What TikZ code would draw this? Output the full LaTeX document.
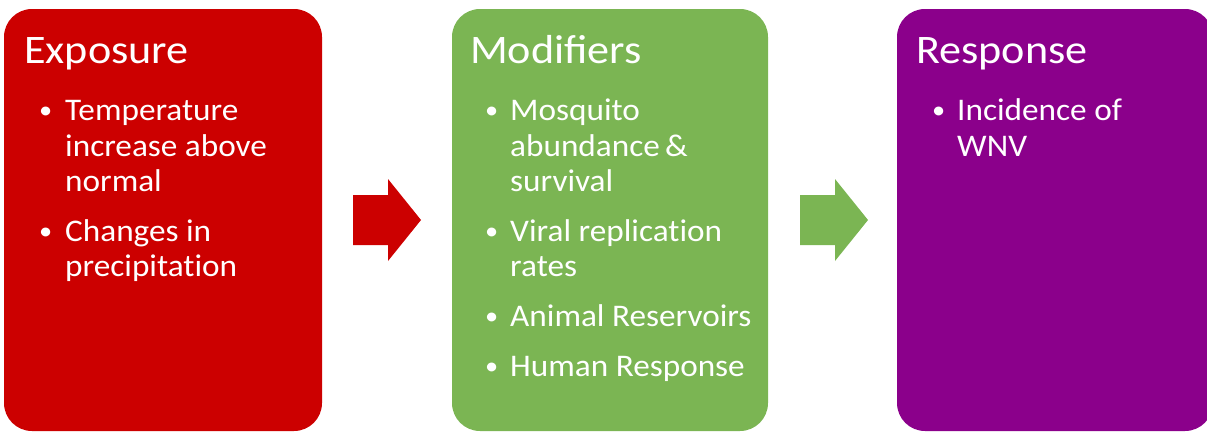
\documentclass[tikz,border=0pt]{standalone}
\usepackage{fontspec}
\setmainfont{Carlito}
\newfontfamily\ttlfont[FakeStretch=1.09]{Carlito}
\newfontfamily\bodyfont[FakeStretch=1.055,Ligatures=NoCommon]{Carlito}
\newcommand{\tinolig}{t\kern0pt i}
\definecolor{expred}{RGB}{204,0,0}
\definecolor{modgreen}{RGB}{123,181,83}
\definecolor{respurple}{RGB}{139,0,139}
\begin{document}
\begin{tikzpicture}[x=1pt,y=-1pt,
  panel/.style={rounded corners=28pt},
  ttl/.style={anchor=base west,inner sep=0pt,text=white,font=\ttlfont\fontsize{40.5}{48}\selectfont},
  txt/.style={anchor=base west,inner sep=0pt,text=white,font=\bodyfont\fontsize{31.5}{36}\selectfont},
  blt/.style={anchor=base west,inner sep=0pt,text=white,font=\bodyfont\fontsize{25}{30}\selectfont}]
\useasboundingbox (0,0) rectangle (1207,432);
% panels
\fill[expred,panel] (4,9) rectangle (322,431);
\fill[modgreen,panel] (452,9) rectangle (768,431);
\fill[respurple,panel] (897,9) rectangle (1213,431);
% block arrows
\coordinate (a1) at (353,195);
\fill[expred] (a1) -- ++(35,0) -- ++(0,-16) -- ++(33,41) -- ++(-33,41) -- ++(0,-16) -- ++(-35,0) -- cycle;
\coordinate (a2) at (800,195);
\fill[modgreen] (a2) -- ++(35,0) -- ++(0,-16) -- ++(33,41) -- ++(-33,41) -- ++(0,-16) -- ++(-35,0) -- cycle;
% Exposure
\node[ttl] (t1) at (24,63) {Exposure};
\node[blt] (b11) at (39,118) {•};
\node[txt] (l11) at (65,120) {Temperature};
\node[txt] (l12) at (65,156) {increase above};
\node[txt] (l13) at (65,191) {normal};
\node[blt] (b12) at (39,239) {•};
\node[txt] (l14) at (65,241) {Changes in};
\node[txt] (l15) at (65,276) {precipita\tinolig on};
% Modifiers
\node[ttl] (t2) at (470,63) {Modifiers};
\node[blt] (b21) at (485,118) {•};
\node[txt] (l21) at (510,120) {Mosquito};
\node[txt] (l22) at (510,156) {abundance\,\&};
\node[txt] (l23) at (510,191) {survival};
\node[blt] (b22) at (485,239) {•};
\node[txt] (l24) at (510,241) {Viral replica\tinolig on};
\node[txt] (l25) at (510,276) {rates};
\node[blt] (b23) at (485,324) {•};
\node[txt] (l26) at (510,326) {Animal Reservoirs};
\node[blt] (b24) at (485,374) {•};
\node[txt] (l27) at (510,376) {Human Response};
% Response
\node[ttl] (t3) at (916,63) {Response};
\node[blt] (b31) at (932,118) {•};
\node[txt] (l31) at (957,120) {Incidence of};
\node[txt] (l32) at (957,156) {WNV};
\end{tikzpicture}
\end{document}
